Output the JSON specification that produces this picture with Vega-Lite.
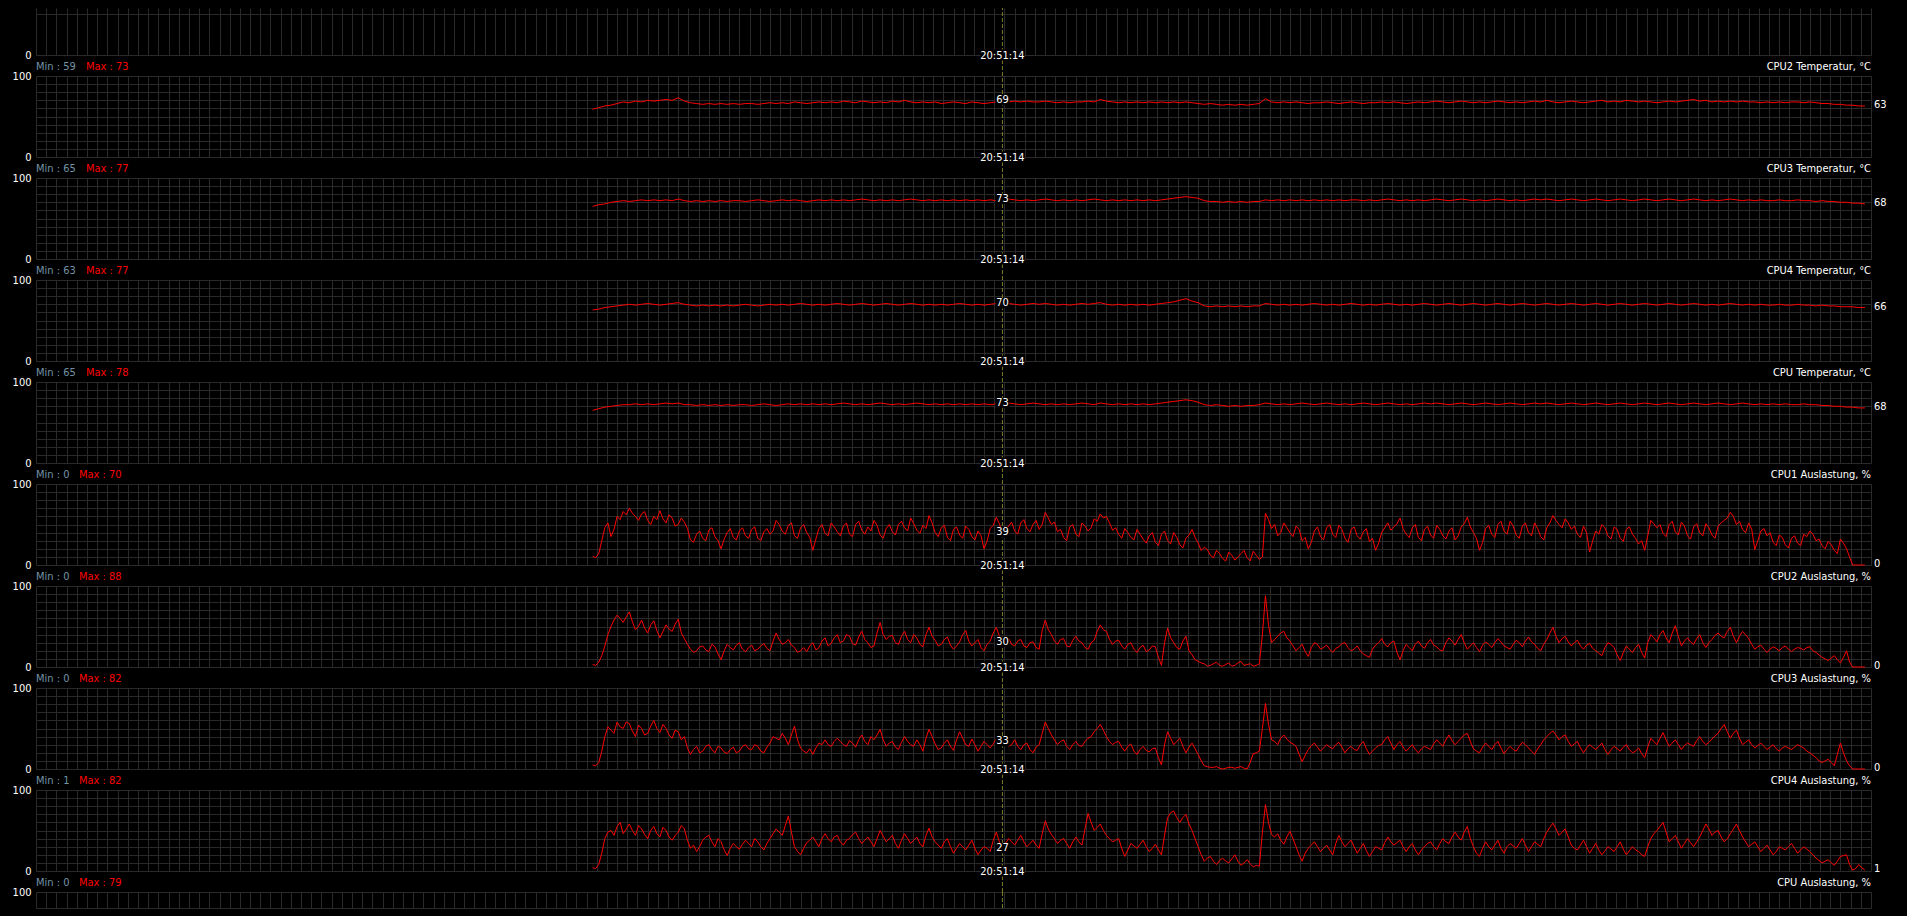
{
  "$schema": "https://vega.github.io/schema/vega-lite/v6.json",
  "description": "Sensor monitor: CPU temperatures and CPU load over time, one strip per sensor.",
  "background": "#000000",
  "padding": {"top": 7, "left": 12, "right": 20, "bottom": 9},
  "datasets": {
    "temp": [
      {"sec":546,"T2":59,"T3":65,"T4":63,"TC":65},{"sec":552,"T2":61,"T3":67,"T4":64,"TC":67},{"sec":558,"T2":63,"T3":68,"T4":66,"TC":69},{"sec":564,"T2":64,"T3":70,"T4":67,"TC":70},
      {"sec":570,"T2":66,"T3":71,"T4":68,"TC":71},{"sec":576,"T2":68,"T3":72,"T4":69,"TC":72},{"sec":582,"T2":67,"T3":71,"T4":70,"TC":72},{"sec":588,"T2":69,"T3":72,"T4":69,"TC":73},
      {"sec":594,"T2":68,"T3":73,"T4":70,"TC":72},{"sec":600,"T2":70,"T3":72,"T4":71,"TC":73},{"sec":606,"T2":69,"T3":73,"T4":70,"TC":72},{"sec":612,"T2":70,"T3":72,"T4":69,"TC":73},
      {"sec":618,"T2":71,"T3":73,"T4":70,"TC":74},{"sec":624,"T2":70,"T3":72,"T4":71,"TC":73},{"sec":630,"T2":73,"T3":74,"T4":72,"TC":74},{"sec":636,"T2":69,"T3":72,"T4":70,"TC":72},
      {"sec":642,"T2":67,"T3":71,"T4":69,"TC":72},{"sec":648,"T2":66,"T3":72,"T4":68,"TC":71},{"sec":654,"T2":65,"T3":71,"T4":69,"TC":72},{"sec":660,"T2":66,"T3":72,"T4":68,"TC":71},
      {"sec":666,"T2":65,"T3":71,"T4":69,"TC":72},{"sec":672,"T2":66,"T3":72,"T4":68,"TC":71},{"sec":678,"T2":65,"T3":71,"T4":69,"TC":72},{"sec":684,"T2":66,"T3":72,"T4":68,"TC":71},
      {"sec":690,"T2":65,"T3":72,"T4":69,"TC":72},{"sec":696,"T2":66,"T3":71,"T4":70,"TC":72},{"sec":702,"T2":66,"T3":72,"T4":69,"TC":71},{"sec":708,"T2":65,"T3":73,"T4":68,"TC":72},
      {"sec":714,"T2":66,"T3":72,"T4":69,"TC":73},{"sec":720,"T2":67,"T3":71,"T4":70,"TC":72},{"sec":726,"T2":66,"T3":72,"T4":69,"TC":71},{"sec":732,"T2":67,"T3":73,"T4":70,"TC":72},
      {"sec":738,"T2":66,"T3":72,"T4":69,"TC":73},{"sec":744,"T2":68,"T3":73,"T4":70,"TC":72},{"sec":750,"T2":67,"T3":72,"T4":71,"TC":73},{"sec":756,"T2":66,"T3":71,"T4":70,"TC":72},
      {"sec":762,"T2":67,"T3":72,"T4":69,"TC":73},{"sec":768,"T2":68,"T3":73,"T4":70,"TC":72},{"sec":774,"T2":67,"T3":72,"T4":69,"TC":73},{"sec":780,"T2":68,"T3":73,"T4":70,"TC":72},
      {"sec":786,"T2":67,"T3":72,"T4":71,"TC":73},{"sec":792,"T2":69,"T3":73,"T4":70,"TC":74},{"sec":798,"T2":68,"T3":72,"T4":69,"TC":73},{"sec":804,"T2":67,"T3":73,"T4":70,"TC":72},
      {"sec":810,"T2":69,"T3":74,"T4":71,"TC":73},{"sec":816,"T2":68,"T3":73,"T4":70,"TC":72},{"sec":822,"T2":67,"T3":72,"T4":69,"TC":73},{"sec":828,"T2":68,"T3":73,"T4":70,"TC":74},
      {"sec":834,"T2":67,"T3":72,"T4":71,"TC":73},{"sec":840,"T2":69,"T3":73,"T4":70,"TC":72},{"sec":846,"T2":68,"T3":72,"T4":69,"TC":73},{"sec":852,"T2":70,"T3":73,"T4":70,"TC":72},
      {"sec":858,"T2":68,"T3":74,"T4":71,"TC":73},{"sec":864,"T2":67,"T3":73,"T4":70,"TC":74},{"sec":870,"T2":68,"T3":72,"T4":69,"TC":73},{"sec":876,"T2":67,"T3":73,"T4":70,"TC":72},
      {"sec":882,"T2":68,"T3":72,"T4":69,"TC":73},{"sec":888,"T2":66,"T3":73,"T4":70,"TC":72},{"sec":894,"T2":67,"T3":72,"T4":69,"TC":73},{"sec":900,"T2":68,"T3":73,"T4":70,"TC":72},
      {"sec":906,"T2":67,"T3":72,"T4":71,"TC":73},{"sec":912,"T2":66,"T3":73,"T4":70,"TC":72},{"sec":918,"T2":68,"T3":72,"T4":69,"TC":73},{"sec":924,"T2":67,"T3":73,"T4":70,"TC":72},
      {"sec":930,"T2":66,"T3":72,"T4":69,"TC":73},{"sec":936,"T2":67,"T3":73,"T4":70,"TC":72},{"sec":942,"T2":68,"T3":72,"T4":71,"TC":73},{"sec":948,"T2":69,"T3":73,"T4":70,"TC":73},
      {"sec":954,"T2":68,"T3":74,"T4":71,"TC":74},{"sec":960,"T2":69,"T3":73,"T4":70,"TC":73},{"sec":966,"T2":68,"T3":72,"T4":69,"TC":72},{"sec":972,"T2":69,"T3":73,"T4":70,"TC":73},
      {"sec":978,"T2":68,"T3":72,"T4":71,"TC":74},{"sec":984,"T2":68,"T3":73,"T4":70,"TC":73},{"sec":990,"T2":69,"T3":74,"T4":71,"TC":72},{"sec":996,"T2":68,"T3":73,"T4":70,"TC":73},
      {"sec":1002,"T2":67,"T3":72,"T4":69,"TC":72},{"sec":1008,"T2":68,"T3":73,"T4":70,"TC":73},{"sec":1014,"T2":67,"T3":72,"T4":69,"TC":72},{"sec":1020,"T2":68,"T3":73,"T4":70,"TC":73},
      {"sec":1026,"T2":68,"T3":72,"T4":71,"TC":74},{"sec":1032,"T2":69,"T3":73,"T4":70,"TC":73},{"sec":1038,"T2":68,"T3":74,"T4":71,"TC":72},{"sec":1044,"T2":71,"T3":73,"T4":72,"TC":74},
      {"sec":1050,"T2":69,"T3":72,"T4":70,"TC":73},{"sec":1056,"T2":68,"T3":73,"T4":69,"TC":72},{"sec":1062,"T2":67,"T3":72,"T4":70,"TC":73},{"sec":1068,"T2":68,"T3":73,"T4":69,"TC":72},
      {"sec":1074,"T2":67,"T3":72,"T4":70,"TC":73},{"sec":1080,"T2":68,"T3":73,"T4":69,"TC":72},{"sec":1086,"T2":67,"T3":72,"T4":70,"TC":73},{"sec":1092,"T2":68,"T3":73,"T4":69,"TC":72},
      {"sec":1098,"T2":67,"T3":72,"T4":70,"TC":73},{"sec":1104,"T2":68,"T3":73,"T4":71,"TC":74},{"sec":1110,"T2":67,"T3":74,"T4":72,"TC":75},{"sec":1116,"T2":68,"T3":75,"T4":73,"TC":76},
      {"sec":1122,"T2":67,"T3":76,"T4":75,"TC":77},{"sec":1128,"T2":68,"T3":77,"T4":77,"TC":78},{"sec":1134,"T2":67,"T3":76,"T4":74,"TC":77},{"sec":1140,"T2":66,"T3":75,"T4":72,"TC":75},
      {"sec":1146,"T2":65,"T3":72,"T4":68,"TC":72},{"sec":1152,"T2":66,"T3":71,"T4":67,"TC":71},{"sec":1158,"T2":65,"T3":71,"T4":68,"TC":72},{"sec":1164,"T2":64,"T3":70,"T4":67,"TC":71},
      {"sec":1170,"T2":65,"T3":71,"T4":68,"TC":70},{"sec":1176,"T2":64,"T3":70,"T4":67,"TC":71},{"sec":1182,"T2":65,"T3":71,"T4":68,"TC":70},{"sec":1188,"T2":64,"T3":70,"T4":67,"TC":71},
      {"sec":1194,"T2":65,"T3":71,"T4":68,"TC":71},{"sec":1200,"T2":66,"T3":71,"T4":68,"TC":72},{"sec":1206,"T2":72,"T3":73,"T4":71,"TC":74},{"sec":1212,"T2":68,"T3":72,"T4":70,"TC":73},
      {"sec":1218,"T2":67,"T3":73,"T4":69,"TC":72},{"sec":1224,"T2":68,"T3":72,"T4":70,"TC":73},{"sec":1230,"T2":67,"T3":73,"T4":69,"TC":72},{"sec":1236,"T2":68,"T3":72,"T4":70,"TC":73},
      {"sec":1242,"T2":67,"T3":73,"T4":69,"TC":74},{"sec":1248,"T2":66,"T3":72,"T4":70,"TC":73},{"sec":1254,"T2":67,"T3":73,"T4":71,"TC":72},{"sec":1260,"T2":67,"T3":72,"T4":70,"TC":73},
      {"sec":1266,"T2":68,"T3":73,"T4":69,"TC":74},{"sec":1272,"T2":67,"T3":72,"T4":70,"TC":73},{"sec":1278,"T2":66,"T3":73,"T4":69,"TC":72},{"sec":1284,"T2":67,"T3":72,"T4":70,"TC":73},
      {"sec":1290,"T2":68,"T3":73,"T4":71,"TC":72},{"sec":1296,"T2":67,"T3":73,"T4":70,"TC":73},{"sec":1302,"T2":66,"T3":72,"T4":69,"TC":74},{"sec":1308,"T2":67,"T3":73,"T4":70,"TC":73},
      {"sec":1314,"T2":67,"T3":72,"T4":69,"TC":72},{"sec":1320,"T2":68,"T3":73,"T4":70,"TC":73},{"sec":1326,"T2":67,"T3":74,"T4":71,"TC":74},{"sec":1332,"T2":68,"T3":73,"T4":70,"TC":73},
      {"sec":1338,"T2":67,"T3":72,"T4":69,"TC":72},{"sec":1344,"T2":66,"T3":73,"T4":70,"TC":73},{"sec":1350,"T2":67,"T3":72,"T4":69,"TC":72},{"sec":1356,"T2":68,"T3":73,"T4":70,"TC":73},
      {"sec":1362,"T2":67,"T3":72,"T4":71,"TC":74},{"sec":1368,"T2":68,"T3":73,"T4":70,"TC":73},{"sec":1374,"T2":69,"T3":74,"T4":69,"TC":74},{"sec":1380,"T2":68,"T3":73,"T4":70,"TC":73},
      {"sec":1386,"T2":67,"T3":72,"T4":71,"TC":72},{"sec":1392,"T2":68,"T3":73,"T4":70,"TC":73},{"sec":1398,"T2":69,"T3":74,"T4":69,"TC":74},{"sec":1404,"T2":68,"T3":73,"T4":70,"TC":73},
      {"sec":1410,"T2":67,"T3":72,"T4":71,"TC":72},{"sec":1416,"T2":68,"T3":73,"T4":70,"TC":73},{"sec":1422,"T2":67,"T3":72,"T4":69,"TC":74},{"sec":1428,"T2":68,"T3":73,"T4":70,"TC":73},
      {"sec":1434,"T2":69,"T3":74,"T4":71,"TC":72},{"sec":1440,"T2":68,"T3":73,"T4":70,"TC":73},{"sec":1446,"T2":67,"T3":72,"T4":69,"TC":74},{"sec":1452,"T2":68,"T3":73,"T4":70,"TC":73},
      {"sec":1458,"T2":67,"T3":72,"T4":71,"TC":72},{"sec":1464,"T2":68,"T3":73,"T4":70,"TC":73},{"sec":1470,"T2":69,"T3":74,"T4":69,"TC":74},{"sec":1476,"T2":68,"T3":73,"T4":70,"TC":73},
      {"sec":1482,"T2":70,"T3":74,"T4":71,"TC":74},{"sec":1488,"T2":68,"T3":73,"T4":70,"TC":73},{"sec":1494,"T2":67,"T3":72,"T4":69,"TC":72},{"sec":1500,"T2":68,"T3":73,"T4":70,"TC":73},
      {"sec":1506,"T2":69,"T3":74,"T4":71,"TC":74},{"sec":1512,"T2":68,"T3":73,"T4":70,"TC":73},{"sec":1518,"T2":67,"T3":72,"T4":69,"TC":72},{"sec":1524,"T2":68,"T3":73,"T4":70,"TC":73},
      {"sec":1530,"T2":69,"T3":74,"T4":71,"TC":74},{"sec":1536,"T2":70,"T3":73,"T4":70,"TC":73},{"sec":1542,"T2":68,"T3":72,"T4":69,"TC":72},{"sec":1548,"T2":69,"T3":73,"T4":70,"TC":73},
      {"sec":1554,"T2":68,"T3":74,"T4":71,"TC":74},{"sec":1560,"T2":70,"T3":73,"T4":70,"TC":73},{"sec":1566,"T2":69,"T3":72,"T4":69,"TC":72},{"sec":1572,"T2":68,"T3":73,"T4":70,"TC":73},
      {"sec":1578,"T2":69,"T3":74,"T4":71,"TC":74},{"sec":1584,"T2":68,"T3":73,"T4":70,"TC":73},{"sec":1590,"T2":67,"T3":72,"T4":69,"TC":72},{"sec":1596,"T2":68,"T3":73,"T4":70,"TC":73},
      {"sec":1602,"T2":69,"T3":74,"T4":71,"TC":74},{"sec":1608,"T2":68,"T3":73,"T4":70,"TC":73},{"sec":1614,"T2":69,"T3":72,"T4":69,"TC":72},{"sec":1620,"T2":70,"T3":73,"T4":70,"TC":73},
      {"sec":1626,"T2":71,"T3":74,"T4":71,"TC":74},{"sec":1632,"T2":69,"T3":73,"T4":70,"TC":73},{"sec":1638,"T2":70,"T3":72,"T4":69,"TC":72},{"sec":1644,"T2":68,"T3":73,"T4":70,"TC":73},
      {"sec":1650,"T2":69,"T3":72,"T4":69,"TC":74},{"sec":1656,"T2":68,"T3":73,"T4":70,"TC":73},{"sec":1662,"T2":69,"T3":74,"T4":71,"TC":72},{"sec":1668,"T2":68,"T3":73,"T4":70,"TC":73},
      {"sec":1674,"T2":69,"T3":72,"T4":69,"TC":74},{"sec":1680,"T2":68,"T3":73,"T4":70,"TC":73},{"sec":1686,"T2":68,"T3":72,"T4":69,"TC":72},{"sec":1692,"T2":67,"T3":73,"T4":70,"TC":73},
      {"sec":1698,"T2":68,"T3":72,"T4":69,"TC":72},{"sec":1704,"T2":67,"T3":72,"T4":69,"TC":73},{"sec":1710,"T2":68,"T3":73,"T4":70,"TC":72},{"sec":1716,"T2":67,"T3":72,"T4":69,"TC":73},
      {"sec":1722,"T2":68,"T3":72,"T4":69,"TC":72},{"sec":1728,"T2":68,"T3":73,"T4":70,"TC":72},{"sec":1734,"T2":67,"T3":72,"T4":69,"TC":73},{"sec":1740,"T2":68,"T3":72,"T4":69,"TC":72},
      {"sec":1746,"T2":67,"T3":71,"T4":68,"TC":72},{"sec":1752,"T2":66,"T3":72,"T4":69,"TC":71},{"sec":1758,"T2":66,"T3":71,"T4":68,"TC":71},{"sec":1764,"T2":65,"T3":71,"T4":68,"TC":70},
      {"sec":1770,"T2":65,"T3":70,"T4":67,"TC":70},{"sec":1776,"T2":64,"T3":70,"T4":67,"TC":69},{"sec":1782,"T2":64,"T3":69,"T4":67,"TC":69},{"sec":1788,"T2":63,"T3":69,"T4":66,"TC":68},
      {"sec":1794,"T2":63,"T3":68,"T4":66,"TC":68}
    ],
    "load": [
      {"sec":546,"L1":11,"L2":3,"L3":5,"L4":4},{"sec":552,"L1":14,"L2":6,"L3":8,"L4":8},{"sec":558,"L1":46,"L2":26,"L3":40,"L4":40},{"sec":564,"L1":35,"L2":50,"L3":48,"L4":50},
      {"sec":570,"L1":60,"L2":64,"L3":58,"L4":55},{"sec":576,"L1":66,"L2":55,"L3":50,"L4":46},{"sec":582,"L1":70,"L2":68,"L3":56,"L4":58},{"sec":588,"L1":60,"L2":46,"L3":40,"L4":44},
      {"sec":594,"L1":63,"L2":58,"L3":50,"L4":52},{"sec":600,"L1":55,"L2":42,"L3":44,"L4":40},{"sec":606,"L1":60,"L2":57,"L3":60,"L4":55},{"sec":612,"L1":67,"L2":36,"L3":45,"L4":42},
      {"sec":618,"L1":52,"L2":52,"L3":50,"L4":50},{"sec":624,"L1":58,"L2":44,"L3":38,"L4":38},{"sec":630,"L1":50,"L2":59,"L3":46,"L4":48},{"sec":636,"L1":53,"L2":35,"L3":40,"L4":52},
      {"sec":642,"L1":31,"L2":22,"L3":18,"L4":28},{"sec":648,"L1":38,"L2":20,"L3":28,"L4":24},{"sec":654,"L1":33,"L2":26,"L3":22,"L4":38},{"sec":660,"L1":43,"L2":19,"L3":30,"L4":44},
      {"sec":666,"L1":35,"L2":25,"L3":20,"L4":30},{"sec":672,"L1":20,"L2":9,"L3":26,"L4":36},{"sec":678,"L1":40,"L2":28,"L3":19,"L4":19},{"sec":684,"L1":34,"L2":21,"L3":27,"L4":34},
      {"sec":690,"L1":42,"L2":30,"L3":22,"L4":27},{"sec":696,"L1":36,"L2":19,"L3":30,"L4":38},{"sec":702,"L1":44,"L2":27,"L3":24,"L4":30},{"sec":708,"L1":33,"L2":22,"L3":28,"L4":36},
      {"sec":714,"L1":41,"L2":29,"L3":20,"L4":26},{"sec":720,"L1":38,"L2":20,"L3":32,"L4":40},{"sec":726,"L1":55,"L2":42,"L3":38,"L4":52},{"sec":732,"L1":42,"L2":28,"L3":44,"L4":44},
      {"sec":738,"L1":49,"L2":34,"L3":30,"L4":68},{"sec":744,"L1":36,"L2":24,"L3":53,"L4":30},{"sec":750,"L1":46,"L2":20,"L3":26,"L4":20},{"sec":756,"L1":40,"L2":19,"L3":20,"L4":35},
      {"sec":762,"L1":18,"L2":30,"L3":18,"L4":42},{"sec":768,"L1":45,"L2":24,"L3":32,"L4":30},{"sec":774,"L1":39,"L2":36,"L3":36,"L4":46},{"sec":780,"L1":52,"L2":29,"L3":28,"L4":36},
      {"sec":786,"L1":41,"L2":40,"L3":38,"L4":44},{"sec":792,"L1":48,"L2":32,"L3":30,"L4":32},{"sec":798,"L1":38,"L2":38,"L3":35,"L4":40},{"sec":804,"L1":50,"L2":27,"L3":27,"L4":48},
      {"sec":810,"L1":43,"L2":44,"L3":42,"L4":34},{"sec":816,"L1":47,"L2":30,"L3":30,"L4":42},{"sec":822,"L1":55,"L2":26,"L3":36,"L4":30},{"sec":828,"L1":37,"L2":55,"L3":49,"L4":50},
      {"sec":834,"L1":45,"L2":34,"L3":28,"L4":36},{"sec":840,"L1":41,"L2":39,"L3":34,"L4":44},{"sec":846,"L1":50,"L2":28,"L3":24,"L4":28},{"sec":852,"L1":46,"L2":44,"L3":40,"L4":46},
      {"sec":858,"L1":58,"L2":30,"L3":30,"L4":34},{"sec":864,"L1":43,"L2":36,"L3":36,"L4":42},{"sec":870,"L1":49,"L2":25,"L3":22,"L4":30},{"sec":876,"L1":61,"L2":49,"L3":49,"L4":53},
      {"sec":882,"L1":40,"L2":33,"L3":31,"L4":36},{"sec":888,"L1":46,"L2":28,"L3":26,"L4":28},{"sec":894,"L1":34,"L2":37,"L3":36,"L4":40},{"sec":900,"L1":44,"L2":22,"L3":23,"L4":22},
      {"sec":906,"L1":37,"L2":31,"L3":46,"L4":34},{"sec":912,"L1":48,"L2":45,"L3":30,"L4":26},{"sec":918,"L1":35,"L2":26,"L3":37,"L4":38},{"sec":924,"L1":42,"L2":34,"L3":22,"L4":20},
      {"sec":930,"L1":20,"L2":20,"L3":34,"L4":30},{"sec":936,"L1":45,"L2":32,"L3":26,"L4":24},{"sec":942,"L1":59,"L2":49,"L3":38,"L4":48},{"sec":948,"L1":39,"L2":30,"L3":33,"L4":27},
      {"sec":954,"L1":48,"L2":36,"L3":28,"L4":40},{"sec":960,"L1":42,"L2":26,"L3":36,"L4":32},{"sec":966,"L1":52,"L2":34,"L3":24,"L4":44},{"sec":972,"L1":45,"L2":24,"L3":32,"L4":30},
      {"sec":978,"L1":50,"L2":31,"L3":20,"L4":38},{"sec":984,"L1":44,"L2":22,"L3":30,"L4":28},{"sec":990,"L1":65,"L2":58,"L3":58,"L4":62},{"sec":996,"L1":50,"L2":40,"L3":42,"L4":45},
      {"sec":1002,"L1":41,"L2":28,"L3":30,"L4":34},{"sec":1008,"L1":34,"L2":35,"L3":36,"L4":40},{"sec":1014,"L1":47,"L2":25,"L3":24,"L4":28},{"sec":1020,"L1":38,"L2":38,"L3":34,"L4":42},
      {"sec":1026,"L1":52,"L2":30,"L3":28,"L4":32},{"sec":1032,"L1":42,"L2":22,"L3":38,"L4":71},{"sec":1038,"L1":57,"L2":33,"L3":46,"L4":50},{"sec":1044,"L1":63,"L2":52,"L3":55,"L4":58},
      {"sec":1050,"L1":60,"L2":44,"L3":40,"L4":44},{"sec":1056,"L1":43,"L2":28,"L3":30,"L4":36},{"sec":1062,"L1":38,"L2":33,"L3":34,"L4":40},{"sec":1068,"L1":45,"L2":22,"L3":22,"L4":18},
      {"sec":1074,"L1":34,"L2":30,"L3":31,"L4":34},{"sec":1080,"L1":44,"L2":18,"L3":18,"L4":28},{"sec":1086,"L1":32,"L2":27,"L3":28,"L4":38},{"sec":1092,"L1":36,"L2":21,"L3":21,"L4":24},
      {"sec":1098,"L1":28,"L2":25,"L3":26,"L4":33},{"sec":1104,"L1":38,"L2":2,"L3":5,"L4":20},{"sec":1110,"L1":30,"L2":48,"L3":46,"L4":66},{"sec":1116,"L1":40,"L2":30,"L3":30,"L4":74},
      {"sec":1122,"L1":25,"L2":22,"L3":38,"L4":60},{"sec":1128,"L1":33,"L2":38,"L3":20,"L4":70},{"sec":1134,"L1":44,"L2":15,"L3":32,"L4":50},{"sec":1140,"L1":27,"L2":7,"L3":18,"L4":30},
      {"sec":1146,"L1":22,"L2":4,"L3":4,"L4":12},{"sec":1152,"L1":12,"L2":2,"L3":2,"L4":18},{"sec":1158,"L1":18,"L2":6,"L3":3,"L4":8},{"sec":1164,"L1":8,"L2":1,"L3":0,"L4":16},
      {"sec":1170,"L1":16,"L2":5,"L3":2,"L4":10},{"sec":1176,"L1":6,"L2":2,"L3":1,"L4":20},{"sec":1182,"L1":14,"L2":7,"L3":3,"L4":7},{"sec":1188,"L1":9,"L2":3,"L3":0,"L4":14},
      {"sec":1194,"L1":17,"L2":1,"L3":19,"L4":5},{"sec":1200,"L1":7,"L2":4,"L3":22,"L4":6},{"sec":1206,"L1":64,"L2":88,"L3":81,"L4":82},{"sec":1212,"L1":45,"L2":30,"L3":36,"L4":45},
      {"sec":1218,"L1":36,"L2":38,"L3":30,"L4":46},{"sec":1224,"L1":52,"L2":44,"L3":42,"L4":33},{"sec":1230,"L1":40,"L2":32,"L3":33,"L4":49},{"sec":1236,"L1":48,"L2":20,"L3":28,"L4":30},
      {"sec":1242,"L1":30,"L2":28,"L3":9,"L4":12},{"sec":1248,"L1":20,"L2":13,"L3":24,"L4":28},{"sec":1254,"L1":42,"L2":30,"L3":32,"L4":36},{"sec":1260,"L1":35,"L2":22,"L3":22,"L4":24},
      {"sec":1266,"L1":46,"L2":27,"L3":30,"L4":32},{"sec":1272,"L1":38,"L2":18,"L3":25,"L4":20},{"sec":1278,"L1":49,"L2":25,"L3":33,"L4":44},{"sec":1284,"L1":33,"L2":30,"L3":20,"L4":30},
      {"sec":1290,"L1":44,"L2":20,"L3":28,"L4":38},{"sec":1296,"L1":36,"L2":26,"L3":23,"L4":22},{"sec":1302,"L1":41,"L2":16,"L3":34,"L4":34},{"sec":1308,"L1":29,"L2":12,"L3":18,"L4":18},
      {"sec":1314,"L1":18,"L2":27,"L3":26,"L4":30},{"sec":1320,"L1":40,"L2":35,"L3":30,"L4":26},{"sec":1326,"L1":52,"L2":25,"L3":40,"L4":42},{"sec":1332,"L1":47,"L2":32,"L3":24,"L4":32},
      {"sec":1338,"L1":58,"L2":9,"L3":34,"L4":38},{"sec":1344,"L1":38,"L2":28,"L3":22,"L4":24},{"sec":1350,"L1":46,"L2":20,"L3":30,"L4":34},{"sec":1356,"L1":34,"L2":32,"L3":20,"L4":20},
      {"sec":1362,"L1":44,"L2":23,"L3":28,"L4":30},{"sec":1368,"L1":37,"L2":34,"L3":24,"L4":36},{"sec":1374,"L1":49,"L2":25,"L3":36,"L4":26},{"sec":1380,"L1":36,"L2":20,"L3":28,"L4":40},
      {"sec":1386,"L1":42,"L2":36,"L3":42,"L4":34},{"sec":1392,"L1":31,"L2":27,"L3":30,"L4":48},{"sec":1398,"L1":47,"L2":40,"L3":38,"L4":38},{"sec":1404,"L1":59,"L2":22,"L3":44,"L4":55},
      {"sec":1410,"L1":40,"L2":30,"L3":25,"L4":30},{"sec":1416,"L1":18,"L2":19,"L3":20,"L4":18},{"sec":1422,"L1":45,"L2":31,"L3":32,"L4":36},{"sec":1428,"L1":38,"L2":24,"L3":24,"L4":26},
      {"sec":1434,"L1":50,"L2":35,"L3":34,"L4":38},{"sec":1440,"L1":42,"L2":26,"L3":19,"L4":22},{"sec":1446,"L1":54,"L2":22,"L3":28,"L4":34},{"sec":1452,"L1":37,"L2":33,"L3":22,"L4":28},
      {"sec":1458,"L1":48,"L2":25,"L3":33,"L4":40},{"sec":1464,"L1":40,"L2":37,"L3":26,"L4":24},{"sec":1470,"L1":52,"L2":28,"L3":18,"L4":36},{"sec":1476,"L1":35,"L2":20,"L3":30,"L4":30},
      {"sec":1482,"L1":46,"L2":34,"L3":40,"L4":48},{"sec":1488,"L1":61,"L2":49,"L3":47,"L4":59},{"sec":1494,"L1":50,"L2":30,"L3":36,"L4":44},{"sec":1500,"L1":57,"L2":38,"L3":42,"L4":52},
      {"sec":1506,"L1":44,"L2":26,"L3":28,"L4":32},{"sec":1512,"L1":38,"L2":33,"L3":34,"L4":26},{"sec":1518,"L1":48,"L2":22,"L3":20,"L4":38},{"sec":1524,"L1":16,"L2":29,"L3":30,"L4":22},
      {"sec":1530,"L1":42,"L2":20,"L3":24,"L4":34},{"sec":1536,"L1":50,"L2":14,"L3":32,"L4":20},{"sec":1542,"L1":36,"L2":30,"L3":18,"L4":30},{"sec":1548,"L1":47,"L2":24,"L3":28,"L4":24},
      {"sec":1554,"L1":33,"L2":8,"L3":22,"L4":36},{"sec":1560,"L1":44,"L2":26,"L3":30,"L4":20},{"sec":1566,"L1":38,"L2":18,"L3":20,"L4":30},{"sec":1572,"L1":26,"L2":28,"L3":26,"L4":24},
      {"sec":1578,"L1":18,"L2":11,"L3":14,"L4":18},{"sec":1584,"L1":55,"L2":40,"L3":38,"L4":40},{"sec":1590,"L1":46,"L2":31,"L3":30,"L4":50},{"sec":1596,"L1":39,"L2":45,"L3":45,"L4":60},
      {"sec":1602,"L1":50,"L2":30,"L3":28,"L4":36},{"sec":1608,"L1":41,"L2":51,"L3":36,"L4":44},{"sec":1614,"L1":53,"L2":26,"L3":24,"L4":28},{"sec":1620,"L1":36,"L2":36,"L3":32,"L4":40},
      {"sec":1626,"L1":47,"L2":28,"L3":28,"L4":30},{"sec":1632,"L1":40,"L2":40,"L3":40,"L4":42},{"sec":1638,"L1":51,"L2":24,"L3":30,"L4":58},{"sec":1644,"L1":37,"L2":34,"L3":37,"L4":44},
      {"sec":1650,"L1":48,"L2":42,"L3":44,"L4":50},{"sec":1656,"L1":55,"L2":36,"L3":55,"L4":36},{"sec":1662,"L1":65,"L2":49,"L3":38,"L4":46},{"sec":1668,"L1":50,"L2":30,"L3":48,"L4":58},
      {"sec":1674,"L1":44,"L2":44,"L3":30,"L4":42},{"sec":1680,"L1":52,"L2":35,"L3":36,"L4":30},{"sec":1686,"L1":19,"L2":22,"L3":26,"L4":36},{"sec":1692,"L1":42,"L2":27,"L3":32,"L4":24},
      {"sec":1698,"L1":36,"L2":18,"L3":24,"L4":32},{"sec":1704,"L1":28,"L2":25,"L3":30,"L4":20},{"sec":1710,"L1":37,"L2":20,"L3":22,"L4":30},{"sec":1716,"L1":25,"L2":26,"L3":28,"L4":26},
      {"sec":1722,"L1":33,"L2":19,"L3":24,"L4":34},{"sec":1728,"L1":27,"L2":24,"L3":30,"L4":22},{"sec":1734,"L1":38,"L2":21,"L3":26,"L4":30},{"sec":1740,"L1":42,"L2":25,"L3":20,"L4":24},
      {"sec":1746,"L1":30,"L2":18,"L3":14,"L4":16},{"sec":1752,"L1":24,"L2":12,"L3":8,"L4":10},{"sec":1758,"L1":29,"L2":8,"L3":12,"L4":14},{"sec":1764,"L1":18,"L2":14,"L3":4,"L4":7},
      {"sec":1770,"L1":32,"L2":5,"L3":32,"L4":18},{"sec":1776,"L1":20,"L2":20,"L3":10,"L4":20},{"sec":1782,"L1":0,"L2":0,"L3":0,"L4":1},{"sec":1788,"L1":0,"L2":0,"L3":0,"L4":8},
      {"sec":1794,"L1":0,"L2":0,"L3":0,"L4":1},
      {"sec":549,"L1":9,"L2":2,"L3":4,"L4":3},{"sec":555,"L1":30,"L2":14,"L3":22,"L4":22},{"sec":561,"L1":52,"L2":40,"L3":52,"L4":48},{"sec":567,"L1":44,"L2":58,"L3":44,"L4":44},
      {"sec":573,"L1":56,"L2":60,"L3":52,"L4":60},{"sec":579,"L1":62,"L2":62,"L3":58,"L4":52},{"sec":585,"L1":64,"L2":56,"L3":47,"L4":50},{"sec":591,"L1":55,"L2":50,"L3":54,"L4":56},
      {"sec":597,"L1":66,"L2":48,"L3":42,"L4":45},{"sec":603,"L1":50,"L2":52,"L3":53,"L4":50},{"sec":609,"L1":56,"L2":45,"L3":50,"L4":46},{"sec":615,"L1":57,"L2":44,"L3":55,"L4":54},
      {"sec":621,"L1":62,"L2":47,"L3":42,"L4":42},{"sec":627,"L1":48,"L2":53,"L3":48,"L4":44},{"sec":633,"L1":58,"L2":42,"L3":36,"L4":56},{"sec":639,"L1":45,"L2":28,"L3":26,"L4":38},
      {"sec":645,"L1":28,"L2":18,"L3":24,"L4":32},{"sec":651,"L1":42,"L2":25,"L3":20,"L4":30},{"sec":657,"L1":30,"L2":21,"L3":28,"L4":42},{"sec":663,"L1":46,"L2":28,"L3":24,"L4":36},
      {"sec":669,"L1":30,"L2":16,"L3":28,"L4":40},{"sec":675,"L1":32,"L2":20,"L3":21,"L4":26},{"sec":681,"L1":45,"L2":24,"L3":24,"L4":28},{"sec":687,"L1":31,"L2":27,"L3":20,"L4":30},
      {"sec":693,"L1":46,"L2":22,"L3":28,"L4":33},{"sec":699,"L1":33,"L2":24,"L3":25,"L4":34},{"sec":705,"L1":47,"L2":20,"L3":30,"L4":40},{"sec":711,"L1":30,"L2":26,"L3":22,"L4":30},
      {"sec":717,"L1":45,"L2":23,"L3":27,"L4":34},{"sec":723,"L1":42,"L2":32,"L3":40,"L4":46},{"sec":729,"L1":50,"L2":34,"L3":36,"L4":48},{"sec":735,"L1":38,"L2":30,"L3":38,"L4":56},
      {"sec":741,"L1":52,"L2":27,"L3":42,"L4":48},{"sec":747,"L1":33,"L2":18,"L3":36,"L4":24},{"sec":753,"L1":50,"L2":24,"L3":22,"L4":28},{"sec":759,"L1":34,"L2":26,"L3":25,"L4":38},
      {"sec":765,"L1":32,"L2":21,"L3":26,"L4":36},{"sec":771,"L1":50,"L2":32,"L3":30,"L4":40},{"sec":777,"L1":36,"L2":26,"L3":30,"L4":40},{"sec":783,"L1":47,"L2":36,"L3":34,"L4":42},
      {"sec":789,"L1":36,"L2":30,"L3":34,"L4":36},{"sec":795,"L1":52,"L2":40,"L3":28,"L4":38},{"sec":801,"L1":35,"L2":29,"L3":32,"L4":45},{"sec":807,"L1":54,"L2":37,"L3":36,"L4":40},
      {"sec":813,"L1":38,"L2":34,"L3":34,"L4":38},{"sec":819,"L1":42,"L2":24,"L3":40,"L4":36},{"sec":825,"L1":49,"L2":42,"L3":42,"L4":40},{"sec":831,"L1":33,"L2":40,"L3":36,"L4":43},
      {"sec":837,"L1":50,"L2":38,"L3":32,"L4":40},{"sec":843,"L1":37,"L2":30,"L3":27,"L4":34},{"sec":849,"L1":54,"L2":38,"L3":33,"L4":38},{"sec":855,"L1":42,"L2":34,"L3":34,"L4":40},
      {"sec":861,"L1":51,"L2":40,"L3":28,"L4":38},{"sec":867,"L1":39,"L2":28,"L3":30,"L4":34},{"sec":873,"L1":45,"L2":40,"L3":38,"L4":44},{"sec":879,"L1":52,"L2":38,"L3":40,"L4":42},
      {"sec":885,"L1":35,"L2":26,"L3":24,"L4":32},{"sec":891,"L1":49,"L2":34,"L3":32,"L4":36},{"sec":897,"L1":30,"L2":27,"L3":28,"L4":30},{"sec":903,"L1":47,"L2":26,"L3":36,"L4":28},
      {"sec":909,"L1":33,"L2":40,"L3":38,"L4":30},{"sec":915,"L1":44,"L2":32,"L3":28,"L4":32},{"sec":921,"L1":31,"L2":30,"L3":30,"L4":28},{"sec":927,"L1":36,"L2":24,"L3":28,"L4":26},
      {"sec":933,"L1":30,"L2":28,"L3":30,"L4":28},{"sec":939,"L1":49,"L2":42,"L3":31,"L4":38},{"sec":945,"L1":51,"L2":38,"L3":30,"L4":36},{"sec":951,"L1":44,"L2":34,"L3":36,"L4":34},
      {"sec":957,"L1":53,"L2":28,"L3":30,"L4":36},{"sec":963,"L1":38,"L2":32,"L3":28,"L4":38},{"sec":969,"L1":56,"L2":26,"L3":30,"L4":36},{"sec":975,"L1":41,"L2":30,"L3":24,"L4":34},
      {"sec":981,"L1":55,"L2":24,"L3":27,"L4":32},{"sec":987,"L1":50,"L2":45,"L3":44,"L4":46},{"sec":993,"L1":58,"L2":46,"L3":50,"L4":52},{"sec":999,"L1":53,"L2":32,"L3":36,"L4":40},
      {"sec":1005,"L1":44,"L2":34,"L3":34,"L4":38},{"sec":1011,"L1":30,"L2":26,"L3":28,"L4":34},{"sec":1017,"L1":50,"L2":33,"L3":30,"L4":36},{"sec":1023,"L1":35,"L2":32,"L3":29,"L4":36},
      {"sec":1029,"L1":48,"L2":24,"L3":34,"L4":52},{"sec":1035,"L1":46,"L2":30,"L3":40,"L4":60},{"sec":1041,"L1":54,"L2":44,"L3":50,"L4":54},{"sec":1047,"L1":58,"L2":46,"L3":48,"L4":50},
      {"sec":1053,"L1":52,"L2":34,"L3":34,"L4":40},{"sec":1059,"L1":46,"L2":32,"L3":33,"L4":38},{"sec":1065,"L1":33,"L2":26,"L3":27,"L4":28},{"sec":1071,"L1":40,"L2":28,"L3":28,"L4":26},
      {"sec":1077,"L1":31,"L2":22,"L3":22,"L4":31},{"sec":1083,"L1":38,"L2":24,"L3":24,"L4":33},{"sec":1089,"L1":27,"L2":19,"L3":23,"L4":30},{"sec":1095,"L1":40,"L2":26,"L3":25,"L4":28},
      {"sec":1101,"L1":24,"L2":12,"L3":14,"L4":26},{"sec":1107,"L1":42,"L2":30,"L3":30,"L4":44},{"sec":1113,"L1":26,"L2":36,"L3":38,"L4":72},{"sec":1119,"L1":34,"L2":24,"L3":34,"L4":66},
      {"sec":1125,"L1":21,"L2":32,"L3":28,"L4":66},{"sec":1131,"L1":37,"L2":20,"L3":27,"L4":58},{"sec":1137,"L1":34,"L2":9,"L3":25,"L4":40},{"sec":1143,"L1":18,"L2":5,"L3":10,"L4":20},
      {"sec":1149,"L1":19,"L2":1,"L3":3,"L4":16},{"sec":1155,"L1":9,"L2":4,"L3":2,"L4":12},{"sec":1161,"L1":14,"L2":2,"L3":1,"L4":13},{"sec":1167,"L1":5,"L2":3,"L3":1,"L4":12},
      {"sec":1173,"L1":12,"L2":1,"L3":2,"L4":15},{"sec":1179,"L1":10,"L2":5,"L3":2,"L4":12},{"sec":1185,"L1":18,"L2":2,"L3":1,"L4":10},{"sec":1191,"L1":5,"L2":4,"L3":8,"L4":9},
      {"sec":1197,"L1":12,"L2":2,"L3":20,"L4":7},{"sec":1203,"L1":10,"L2":40,"L3":50,"L4":48},{"sec":1209,"L1":56,"L2":52,"L3":55,"L4":60},{"sec":1215,"L1":50,"L2":34,"L3":34,"L4":42},
      {"sec":1221,"L1":40,"L2":42,"L3":38,"L4":38},{"sec":1227,"L1":46,"L2":36,"L3":37,"L4":42},{"sec":1233,"L1":35,"L2":26,"L3":31,"L4":40},{"sec":1239,"L1":44,"L2":24,"L3":18,"L4":20},
      {"sec":1245,"L1":34,"L2":19,"L3":17,"L4":22},{"sec":1251,"L1":28,"L2":24,"L3":29,"L4":32},{"sec":1257,"L1":47,"L2":28,"L3":27,"L4":30},{"sec":1263,"L1":31,"L2":24,"L3":26,"L4":28},
      {"sec":1269,"L1":50,"L2":22,"L3":27,"L4":26},{"sec":1275,"L1":34,"L2":23,"L3":30,"L4":34},{"sec":1281,"L1":44,"L2":29,"L3":27,"L4":36},{"sec":1287,"L1":28,"L2":24,"L3":25,"L4":34},
      {"sec":1293,"L1":47,"L2":22,"L3":24,"L4":30},{"sec":1299,"L1":32,"L2":20,"L3":30,"L4":28},{"sec":1305,"L1":45,"L2":14,"L3":25,"L4":25},{"sec":1311,"L1":33,"L2":22,"L3":22,"L4":24},
      {"sec":1317,"L1":27,"L2":30,"L3":29,"L4":28},{"sec":1323,"L1":46,"L2":28,"L3":36,"L4":35},{"sec":1329,"L1":43,"L2":30,"L3":32,"L4":36},{"sec":1335,"L1":51,"L2":18,"L3":30,"L4":35},
      {"sec":1341,"L1":45,"L2":20,"L3":27,"L4":30},{"sec":1347,"L1":34,"L2":24,"L3":26,"L4":30},{"sec":1353,"L1":50,"L2":28,"L3":24,"L4":26},{"sec":1359,"L1":30,"L2":26,"L3":25,"L4":26},
      {"sec":1365,"L1":48,"L2":30,"L3":26,"L4":34},{"sec":1371,"L1":33,"L2":27,"L3":31,"L4":30},{"sec":1377,"L1":44,"L2":21,"L3":32,"L4":34},{"sec":1383,"L1":32,"L2":30,"L3":36,"L4":36},
      {"sec":1389,"L1":46,"L2":32,"L3":35,"L4":42},{"sec":1395,"L1":36,"L2":34,"L3":34,"L4":42},{"sec":1401,"L1":51,"L2":30,"L3":42,"L4":48},{"sec":1407,"L1":47,"L2":26,"L3":34,"L4":40},
      {"sec":1413,"L1":33,"L2":24,"L3":22,"L4":22},{"sec":1419,"L1":28,"L2":27,"L3":27,"L4":28},{"sec":1425,"L1":49,"L2":28,"L3":28,"L4":30},{"sec":1431,"L1":34,"L2":30,"L3":30,"L4":32},
      {"sec":1437,"L1":54,"L2":31,"L3":26,"L4":28},{"sec":1443,"L1":38,"L2":24,"L3":24,"L4":30},{"sec":1449,"L1":48,"L2":28,"L3":24,"L4":31},{"sec":1455,"L1":33,"L2":30,"L3":28,"L4":34},
      {"sec":1461,"L1":52,"L2":32,"L3":30,"L4":32},{"sec":1467,"L1":36,"L2":31,"L3":22,"L4":30},{"sec":1473,"L1":45,"L2":23,"L3":25,"L4":33},{"sec":1479,"L1":31,"L2":28,"L3":36,"L4":40},
      {"sec":1485,"L1":52,"L2":42,"L3":44,"L4":54},{"sec":1491,"L1":55,"L2":38,"L3":42,"L4":52},{"sec":1497,"L1":46,"L2":35,"L3":40,"L4":48},{"sec":1503,"L1":52,"L2":31,"L3":34,"L4":42},
      {"sec":1509,"L1":48,"L2":30,"L3":31,"L4":28},{"sec":1515,"L1":34,"L2":26,"L3":26,"L4":32},{"sec":1521,"L1":40,"L2":27,"L3":26,"L4":30},{"sec":1527,"L1":30,"L2":23,"L3":27,"L4":28},
      {"sec":1533,"L1":38,"L2":17,"L3":28,"L4":26},{"sec":1539,"L1":46,"L2":24,"L3":24,"L4":25},{"sec":1545,"L1":32,"L2":28,"L3":24,"L4":27},{"sec":1551,"L1":44,"L2":15,"L3":25,"L4":30},
      {"sec":1557,"L1":29,"L2":18,"L3":27,"L4":27},{"sec":1563,"L1":47,"L2":22,"L3":24,"L4":25},{"sec":1569,"L1":33,"L2":24,"L3":22,"L4":26},{"sec":1575,"L1":30,"L2":18,"L3":19,"L4":20},
      {"sec":1581,"L1":36,"L2":30,"L3":27,"L4":30},{"sec":1587,"L1":51,"L2":36,"L3":34,"L4":46},{"sec":1593,"L1":50,"L2":40,"L3":38,"L4":55},{"sec":1599,"L1":35,"L2":36,"L3":36,"L4":48},
      {"sec":1605,"L1":54,"L2":42,"L3":32,"L4":40},{"sec":1611,"L1":37,"L2":38,"L3":30,"L4":36},{"sec":1617,"L1":48,"L2":32,"L3":29,"L4":34},{"sec":1623,"L1":32,"L2":31,"L3":30,"L4":35},
      {"sec":1629,"L1":51,"L2":35,"L3":35,"L4":36},{"sec":1635,"L1":36,"L2":30,"L3":34,"L4":50},{"sec":1641,"L1":46,"L2":30,"L3":33,"L4":52},{"sec":1647,"L1":33,"L2":39,"L3":41,"L4":48},
      {"sec":1653,"L1":52,"L2":38,"L3":50,"L4":42},{"sec":1659,"L1":58,"L2":44,"L3":46,"L4":40},{"sec":1665,"L1":60,"L2":38,"L3":44,"L4":52},{"sec":1671,"L1":54,"L2":38,"L3":38,"L4":50},
      {"sec":1677,"L1":40,"L2":40,"L3":33,"L4":36},{"sec":1683,"L1":44,"L2":28,"L3":30,"L4":33},{"sec":1689,"L1":30,"L2":25,"L3":29,"L4":30},{"sec":1695,"L1":45,"L2":22,"L3":28,"L4":28},
      {"sec":1701,"L1":40,"L2":22,"L3":27,"L4":26},{"sec":1707,"L1":24,"L2":23,"L3":25,"L4":24},{"sec":1713,"L1":34,"L2":24,"L3":26,"L4":28},{"sec":1719,"L1":21,"L2":22,"L3":26,"L4":30},
      {"sec":1725,"L1":36,"L2":22,"L3":27,"L4":28},{"sec":1731,"L1":24,"L2":23,"L3":28,"L4":26},{"sec":1737,"L1":35,"L2":24,"L3":22,"L4":27},{"sec":1743,"L1":38,"L2":20,"L3":17,"L4":20},
      {"sec":1749,"L1":32,"L2":15,"L3":10,"L4":13},{"sec":1755,"L1":20,"L2":10,"L3":10,"L4":12},{"sec":1761,"L1":25,"L2":11,"L3":8,"L4":10},{"sec":1767,"L1":14,"L2":9,"L3":18,"L4":12},
      {"sec":1773,"L1":27,"L2":12,"L3":20,"L4":19},{"sec":1779,"L1":10,"L2":6,"L3":4,"L4":8},{"sec":1785,"L1":0,"L2":0,"L3":0,"L4":3},{"sec":1791,"L1":0,"L2":0,"L3":0,"L4":4}
    ]
  },
  "vconcat": [
    {
      "width": 1835,
      "height": 47,
      "data": {"values": [{}]},
      "layer": [
        {"mark": "rule", "encoding": {
          "x": {"datum": 948, "scale": {"domain": [0, 1800], "nice": false}, "axis": {"tickCount": 180}},
          "y": {"datum": -26, "scale": {"domain": [0, 58], "nice": false}, "axis": {"values": [0, 10, 20, 30, 40, 50]}},
          "y2": {"datum": 58}}},
        {"mark": {"type": "point", "shape": "M-1,-0.25L1,-0.25L1,0.25L-1,0.25Z", "size": 1936, "filled": true, "color": "#000000", "opacity": 1},
         "encoding": {"x": {"datum": 948}, "y": {"datum": 0}}},
        {"mark": {"type": "text", "dy": 1}, "encoding": {"x": {"datum": 948}, "y": {"datum": 0}, "text": {"value": "20:51:14"}}}
      ]
    },
    {
      "width": 1835,
      "height": 81,
      "data": {"name": "temp"},
      "encoding": {"x": {"field": "sec", "type": "quantitative", "scale": {"domain": [0, 1800], "nice": false}, "axis": {"tickCount": 180, "title": null}}},
      "layer": [
        {"mark": "line", "encoding": {"y": {"field": "T2", "type": "quantitative", "scale": {"domain": [0, 100], "nice": false}, "axis": {"values": [0, 10, 20, 30, 40, 50, 60, 70, 80, 90, 100], "title": null}}}},
        {"transform": [{"filter": "datum.sec == 948"}], "mark": "rule", "encoding": {"x": {"datum": 948, "scale": {"domain": [0, 1800], "nice": false}, "axis": {"tickCount": 180, "title": null}}, "y": {"datum": -26, "scale": {"domain": [0, 100], "nice": false}, "axis": {"values": [0, 10, 20, 30, 40, 50, 60, 70, 80, 90, 100], "title": null}}, "y2": {"datum": 100}}},
        {"transform": [{"filter": "datum.sec == 948"}], "mark": {"type": "point", "shape": "M-1,-0.25L1,-0.25L1,0.25L-1,0.25Z", "size": 1936, "filled": true, "color": "#000000", "opacity": 1}, "encoding": {"x": {"datum": 948, "scale": {"domain": [0, 1800], "nice": false}, "axis": {"tickCount": 180, "title": null}}, "y": {"datum": 0, "scale": {"domain": [0, 100], "nice": false}, "axis": {"values": [0, 10, 20, 30, 40, 50, 60, 70, 80, 90, 100], "title": null}}}},
        {"transform": [{"filter": "datum.sec == 948"}], "mark": {"type": "text", "dy": 1}, "encoding": {"x": {"datum": 948, "scale": {"domain": [0, 1800], "nice": false}, "axis": {"tickCount": 180, "title": null}}, "y": {"datum": 0, "scale": {"domain": [0, 100], "nice": false}, "axis": {"values": [0, 10, 20, 30, 40, 50, 60, 70, 80, 90, 100], "title": null}}, "text": {"value": "20:51:14"}}},
        {"transform": [{"filter": "datum.sec == 948"}], "mark": {"type": "text", "align": "left", "dy": -9, "color": "#7393a5"}, "encoding": {"x": {"datum": 0, "scale": {"domain": [0, 1800], "nice": false}, "axis": {"tickCount": 180, "title": null}}, "y": {"datum": 100, "scale": {"domain": [0, 100], "nice": false}, "axis": {"values": [0, 10, 20, 30, 40, 50, 60, 70, 80, 90, 100], "title": null}}, "text": {"value": "Min : 59"}}},
        {"transform": [{"filter": "datum.sec == 948"}], "mark": {"type": "text", "align": "left", "dx": 50, "dy": -9, "color": "#ff0000"}, "encoding": {"x": {"datum": 0, "scale": {"domain": [0, 1800], "nice": false}, "axis": {"tickCount": 180, "title": null}}, "y": {"datum": 100, "scale": {"domain": [0, 100], "nice": false}, "axis": {"values": [0, 10, 20, 30, 40, 50, 60, 70, 80, 90, 100], "title": null}}, "text": {"value": "Max : 73"}}},
        {"transform": [{"filter": "datum.sec == 948"}], "mark": {"type": "text", "align": "right", "dy": -9}, "encoding": {"x": {"datum": 1800, "scale": {"domain": [0, 1800], "nice": false}, "axis": {"tickCount": 180, "title": null}}, "y": {"datum": 100, "scale": {"domain": [0, 100], "nice": false}, "axis": {"values": [0, 10, 20, 30, 40, 50, 60, 70, 80, 90, 100], "title": null}}, "text": {"value": "CPU2 Temperatur, °C"}}},
        {"transform": [{"filter": "datum.sec == 948"}], "mark": {"type": "point", "shape": "M-1,-0.75L1,-0.75L1,0.75L-1,0.75Z", "size": 196, "filled": true, "color": "#000000", "opacity": 1, "yOffset": -1}, "encoding": {"y": {"field": "T2", "type": "quantitative", "scale": {"domain": [0, 100], "nice": false}, "axis": {"values": [0, 10, 20, 30, 40, 50, 60, 70, 80, 90, 100], "title": null}}}},
        {"transform": [{"filter": "datum.sec == 948"}], "mark": {"type": "text", "dy": -1}, "encoding": {"y": {"field": "T2", "type": "quantitative", "scale": {"domain": [0, 100], "nice": false}, "axis": {"values": [0, 10, 20, 30, 40, 50, 60, 70, 80, 90, 100], "title": null}}, "text": {"field": "T2", "type": "quantitative"}}},
        {"transform": [{"filter": "datum.sec == 1794"}], "mark": {"type": "text", "align": "left", "dx": 3, "dy": -1}, "encoding": {"x": {"datum": 1800, "scale": {"domain": [0, 1800], "nice": false}, "axis": {"tickCount": 180, "title": null}}, "y": {"field": "T2", "type": "quantitative", "scale": {"domain": [0, 100], "nice": false}, "axis": {"values": [0, 10, 20, 30, 40, 50, 60, 70, 80, 90, 100], "title": null}}, "text": {"field": "T2", "type": "quantitative"}}}
      ]
    },
    {
      "width": 1835,
      "height": 81,
      "data": {"name": "temp"},
      "encoding": {"x": {"field": "sec", "type": "quantitative", "scale": {"domain": [0, 1800], "nice": false}, "axis": {"tickCount": 180, "title": null}}},
      "layer": [
        {"mark": "line", "encoding": {"y": {"field": "T3", "type": "quantitative", "scale": {"domain": [0, 100], "nice": false}, "axis": {"values": [0, 10, 20, 30, 40, 50, 60, 70, 80, 90, 100], "title": null}}}},
        {"transform": [{"filter": "datum.sec == 948"}], "mark": "rule", "encoding": {"x": {"datum": 948, "scale": {"domain": [0, 1800], "nice": false}, "axis": {"tickCount": 180, "title": null}}, "y": {"datum": -26, "scale": {"domain": [0, 100], "nice": false}, "axis": {"values": [0, 10, 20, 30, 40, 50, 60, 70, 80, 90, 100], "title": null}}, "y2": {"datum": 100}}},
        {"transform": [{"filter": "datum.sec == 948"}], "mark": {"type": "point", "shape": "M-1,-0.25L1,-0.25L1,0.25L-1,0.25Z", "size": 1936, "filled": true, "color": "#000000", "opacity": 1}, "encoding": {"x": {"datum": 948, "scale": {"domain": [0, 1800], "nice": false}, "axis": {"tickCount": 180, "title": null}}, "y": {"datum": 0, "scale": {"domain": [0, 100], "nice": false}, "axis": {"values": [0, 10, 20, 30, 40, 50, 60, 70, 80, 90, 100], "title": null}}}},
        {"transform": [{"filter": "datum.sec == 948"}], "mark": {"type": "text", "dy": 1}, "encoding": {"x": {"datum": 948, "scale": {"domain": [0, 1800], "nice": false}, "axis": {"tickCount": 180, "title": null}}, "y": {"datum": 0, "scale": {"domain": [0, 100], "nice": false}, "axis": {"values": [0, 10, 20, 30, 40, 50, 60, 70, 80, 90, 100], "title": null}}, "text": {"value": "20:51:14"}}},
        {"transform": [{"filter": "datum.sec == 948"}], "mark": {"type": "text", "align": "left", "dy": -9, "color": "#7393a5"}, "encoding": {"x": {"datum": 0, "scale": {"domain": [0, 1800], "nice": false}, "axis": {"tickCount": 180, "title": null}}, "y": {"datum": 100, "scale": {"domain": [0, 100], "nice": false}, "axis": {"values": [0, 10, 20, 30, 40, 50, 60, 70, 80, 90, 100], "title": null}}, "text": {"value": "Min : 65"}}},
        {"transform": [{"filter": "datum.sec == 948"}], "mark": {"type": "text", "align": "left", "dx": 50, "dy": -9, "color": "#ff0000"}, "encoding": {"x": {"datum": 0, "scale": {"domain": [0, 1800], "nice": false}, "axis": {"tickCount": 180, "title": null}}, "y": {"datum": 100, "scale": {"domain": [0, 100], "nice": false}, "axis": {"values": [0, 10, 20, 30, 40, 50, 60, 70, 80, 90, 100], "title": null}}, "text": {"value": "Max : 77"}}},
        {"transform": [{"filter": "datum.sec == 948"}], "mark": {"type": "text", "align": "right", "dy": -9}, "encoding": {"x": {"datum": 1800, "scale": {"domain": [0, 1800], "nice": false}, "axis": {"tickCount": 180, "title": null}}, "y": {"datum": 100, "scale": {"domain": [0, 100], "nice": false}, "axis": {"values": [0, 10, 20, 30, 40, 50, 60, 70, 80, 90, 100], "title": null}}, "text": {"value": "CPU3 Temperatur, °C"}}},
        {"transform": [{"filter": "datum.sec == 948"}], "mark": {"type": "point", "shape": "M-1,-0.75L1,-0.75L1,0.75L-1,0.75Z", "size": 196, "filled": true, "color": "#000000", "opacity": 1, "yOffset": -1}, "encoding": {"y": {"field": "T3", "type": "quantitative", "scale": {"domain": [0, 100], "nice": false}, "axis": {"values": [0, 10, 20, 30, 40, 50, 60, 70, 80, 90, 100], "title": null}}}},
        {"transform": [{"filter": "datum.sec == 948"}], "mark": {"type": "text", "dy": -1}, "encoding": {"y": {"field": "T3", "type": "quantitative", "scale": {"domain": [0, 100], "nice": false}, "axis": {"values": [0, 10, 20, 30, 40, 50, 60, 70, 80, 90, 100], "title": null}}, "text": {"field": "T3", "type": "quantitative"}}},
        {"transform": [{"filter": "datum.sec == 1794"}], "mark": {"type": "text", "align": "left", "dx": 3, "dy": -1}, "encoding": {"x": {"datum": 1800, "scale": {"domain": [0, 1800], "nice": false}, "axis": {"tickCount": 180, "title": null}}, "y": {"field": "T3", "type": "quantitative", "scale": {"domain": [0, 100], "nice": false}, "axis": {"values": [0, 10, 20, 30, 40, 50, 60, 70, 80, 90, 100], "title": null}}, "text": {"field": "T3", "type": "quantitative"}}}
      ]
    },
    {
      "width": 1835,
      "height": 81,
      "data": {"name": "temp"},
      "encoding": {"x": {"field": "sec", "type": "quantitative", "scale": {"domain": [0, 1800], "nice": false}, "axis": {"tickCount": 180, "title": null}}},
      "layer": [
        {"mark": "line", "encoding": {"y": {"field": "T4", "type": "quantitative", "scale": {"domain": [0, 100], "nice": false}, "axis": {"values": [0, 10, 20, 30, 40, 50, 60, 70, 80, 90, 100], "title": null}}}},
        {"transform": [{"filter": "datum.sec == 948"}], "mark": "rule", "encoding": {"x": {"datum": 948, "scale": {"domain": [0, 1800], "nice": false}, "axis": {"tickCount": 180, "title": null}}, "y": {"datum": -26, "scale": {"domain": [0, 100], "nice": false}, "axis": {"values": [0, 10, 20, 30, 40, 50, 60, 70, 80, 90, 100], "title": null}}, "y2": {"datum": 100}}},
        {"transform": [{"filter": "datum.sec == 948"}], "mark": {"type": "point", "shape": "M-1,-0.25L1,-0.25L1,0.25L-1,0.25Z", "size": 1936, "filled": true, "color": "#000000", "opacity": 1}, "encoding": {"x": {"datum": 948, "scale": {"domain": [0, 1800], "nice": false}, "axis": {"tickCount": 180, "title": null}}, "y": {"datum": 0, "scale": {"domain": [0, 100], "nice": false}, "axis": {"values": [0, 10, 20, 30, 40, 50, 60, 70, 80, 90, 100], "title": null}}}},
        {"transform": [{"filter": "datum.sec == 948"}], "mark": {"type": "text", "dy": 1}, "encoding": {"x": {"datum": 948, "scale": {"domain": [0, 1800], "nice": false}, "axis": {"tickCount": 180, "title": null}}, "y": {"datum": 0, "scale": {"domain": [0, 100], "nice": false}, "axis": {"values": [0, 10, 20, 30, 40, 50, 60, 70, 80, 90, 100], "title": null}}, "text": {"value": "20:51:14"}}},
        {"transform": [{"filter": "datum.sec == 948"}], "mark": {"type": "text", "align": "left", "dy": -9, "color": "#7393a5"}, "encoding": {"x": {"datum": 0, "scale": {"domain": [0, 1800], "nice": false}, "axis": {"tickCount": 180, "title": null}}, "y": {"datum": 100, "scale": {"domain": [0, 100], "nice": false}, "axis": {"values": [0, 10, 20, 30, 40, 50, 60, 70, 80, 90, 100], "title": null}}, "text": {"value": "Min : 63"}}},
        {"transform": [{"filter": "datum.sec == 948"}], "mark": {"type": "text", "align": "left", "dx": 50, "dy": -9, "color": "#ff0000"}, "encoding": {"x": {"datum": 0, "scale": {"domain": [0, 1800], "nice": false}, "axis": {"tickCount": 180, "title": null}}, "y": {"datum": 100, "scale": {"domain": [0, 100], "nice": false}, "axis": {"values": [0, 10, 20, 30, 40, 50, 60, 70, 80, 90, 100], "title": null}}, "text": {"value": "Max : 77"}}},
        {"transform": [{"filter": "datum.sec == 948"}], "mark": {"type": "text", "align": "right", "dy": -9}, "encoding": {"x": {"datum": 1800, "scale": {"domain": [0, 1800], "nice": false}, "axis": {"tickCount": 180, "title": null}}, "y": {"datum": 100, "scale": {"domain": [0, 100], "nice": false}, "axis": {"values": [0, 10, 20, 30, 40, 50, 60, 70, 80, 90, 100], "title": null}}, "text": {"value": "CPU4 Temperatur, °C"}}},
        {"transform": [{"filter": "datum.sec == 948"}], "mark": {"type": "point", "shape": "M-1,-0.75L1,-0.75L1,0.75L-1,0.75Z", "size": 196, "filled": true, "color": "#000000", "opacity": 1, "yOffset": -1}, "encoding": {"y": {"field": "T4", "type": "quantitative", "scale": {"domain": [0, 100], "nice": false}, "axis": {"values": [0, 10, 20, 30, 40, 50, 60, 70, 80, 90, 100], "title": null}}}},
        {"transform": [{"filter": "datum.sec == 948"}], "mark": {"type": "text", "dy": -1}, "encoding": {"y": {"field": "T4", "type": "quantitative", "scale": {"domain": [0, 100], "nice": false}, "axis": {"values": [0, 10, 20, 30, 40, 50, 60, 70, 80, 90, 100], "title": null}}, "text": {"field": "T4", "type": "quantitative"}}},
        {"transform": [{"filter": "datum.sec == 1794"}], "mark": {"type": "text", "align": "left", "dx": 3, "dy": -1}, "encoding": {"x": {"datum": 1800, "scale": {"domain": [0, 1800], "nice": false}, "axis": {"tickCount": 180, "title": null}}, "y": {"field": "T4", "type": "quantitative", "scale": {"domain": [0, 100], "nice": false}, "axis": {"values": [0, 10, 20, 30, 40, 50, 60, 70, 80, 90, 100], "title": null}}, "text": {"field": "T4", "type": "quantitative"}}}
      ]
    },
    {
      "width": 1835,
      "height": 81,
      "data": {"name": "temp"},
      "encoding": {"x": {"field": "sec", "type": "quantitative", "scale": {"domain": [0, 1800], "nice": false}, "axis": {"tickCount": 180, "title": null}}},
      "layer": [
        {"mark": "line", "encoding": {"y": {"field": "TC", "type": "quantitative", "scale": {"domain": [0, 100], "nice": false}, "axis": {"values": [0, 10, 20, 30, 40, 50, 60, 70, 80, 90, 100], "title": null}}}},
        {"transform": [{"filter": "datum.sec == 948"}], "mark": "rule", "encoding": {"x": {"datum": 948, "scale": {"domain": [0, 1800], "nice": false}, "axis": {"tickCount": 180, "title": null}}, "y": {"datum": -26, "scale": {"domain": [0, 100], "nice": false}, "axis": {"values": [0, 10, 20, 30, 40, 50, 60, 70, 80, 90, 100], "title": null}}, "y2": {"datum": 100}}},
        {"transform": [{"filter": "datum.sec == 948"}], "mark": {"type": "point", "shape": "M-1,-0.25L1,-0.25L1,0.25L-1,0.25Z", "size": 1936, "filled": true, "color": "#000000", "opacity": 1}, "encoding": {"x": {"datum": 948, "scale": {"domain": [0, 1800], "nice": false}, "axis": {"tickCount": 180, "title": null}}, "y": {"datum": 0, "scale": {"domain": [0, 100], "nice": false}, "axis": {"values": [0, 10, 20, 30, 40, 50, 60, 70, 80, 90, 100], "title": null}}}},
        {"transform": [{"filter": "datum.sec == 948"}], "mark": {"type": "text", "dy": 1}, "encoding": {"x": {"datum": 948, "scale": {"domain": [0, 1800], "nice": false}, "axis": {"tickCount": 180, "title": null}}, "y": {"datum": 0, "scale": {"domain": [0, 100], "nice": false}, "axis": {"values": [0, 10, 20, 30, 40, 50, 60, 70, 80, 90, 100], "title": null}}, "text": {"value": "20:51:14"}}},
        {"transform": [{"filter": "datum.sec == 948"}], "mark": {"type": "text", "align": "left", "dy": -9, "color": "#7393a5"}, "encoding": {"x": {"datum": 0, "scale": {"domain": [0, 1800], "nice": false}, "axis": {"tickCount": 180, "title": null}}, "y": {"datum": 100, "scale": {"domain": [0, 100], "nice": false}, "axis": {"values": [0, 10, 20, 30, 40, 50, 60, 70, 80, 90, 100], "title": null}}, "text": {"value": "Min : 65"}}},
        {"transform": [{"filter": "datum.sec == 948"}], "mark": {"type": "text", "align": "left", "dx": 50, "dy": -9, "color": "#ff0000"}, "encoding": {"x": {"datum": 0, "scale": {"domain": [0, 1800], "nice": false}, "axis": {"tickCount": 180, "title": null}}, "y": {"datum": 100, "scale": {"domain": [0, 100], "nice": false}, "axis": {"values": [0, 10, 20, 30, 40, 50, 60, 70, 80, 90, 100], "title": null}}, "text": {"value": "Max : 78"}}},
        {"transform": [{"filter": "datum.sec == 948"}], "mark": {"type": "text", "align": "right", "dy": -9}, "encoding": {"x": {"datum": 1800, "scale": {"domain": [0, 1800], "nice": false}, "axis": {"tickCount": 180, "title": null}}, "y": {"datum": 100, "scale": {"domain": [0, 100], "nice": false}, "axis": {"values": [0, 10, 20, 30, 40, 50, 60, 70, 80, 90, 100], "title": null}}, "text": {"value": "CPU Temperatur, °C"}}},
        {"transform": [{"filter": "datum.sec == 948"}], "mark": {"type": "point", "shape": "M-1,-0.75L1,-0.75L1,0.75L-1,0.75Z", "size": 196, "filled": true, "color": "#000000", "opacity": 1, "yOffset": -1}, "encoding": {"y": {"field": "TC", "type": "quantitative", "scale": {"domain": [0, 100], "nice": false}, "axis": {"values": [0, 10, 20, 30, 40, 50, 60, 70, 80, 90, 100], "title": null}}}},
        {"transform": [{"filter": "datum.sec == 948"}], "mark": {"type": "text", "dy": -1}, "encoding": {"y": {"field": "TC", "type": "quantitative", "scale": {"domain": [0, 100], "nice": false}, "axis": {"values": [0, 10, 20, 30, 40, 50, 60, 70, 80, 90, 100], "title": null}}, "text": {"field": "TC", "type": "quantitative"}}},
        {"transform": [{"filter": "datum.sec == 1794"}], "mark": {"type": "text", "align": "left", "dx": 3, "dy": -1}, "encoding": {"x": {"datum": 1800, "scale": {"domain": [0, 1800], "nice": false}, "axis": {"tickCount": 180, "title": null}}, "y": {"field": "TC", "type": "quantitative", "scale": {"domain": [0, 100], "nice": false}, "axis": {"values": [0, 10, 20, 30, 40, 50, 60, 70, 80, 90, 100], "title": null}}, "text": {"field": "TC", "type": "quantitative"}}}
      ]
    },
    {
      "width": 1835,
      "height": 81,
      "data": {"name": "load"},
      "encoding": {"x": {"field": "sec", "type": "quantitative", "scale": {"domain": [0, 1800], "nice": false}, "axis": {"tickCount": 180, "title": null}}},
      "layer": [
        {"mark": "line", "encoding": {"y": {"field": "L1", "type": "quantitative", "scale": {"domain": [0, 100], "nice": false}, "axis": {"values": [0, 10, 20, 30, 40, 50, 60, 70, 80, 90, 100], "title": null}}}},
        {"transform": [{"filter": "datum.sec == 948"}], "mark": "rule", "encoding": {"x": {"datum": 948, "scale": {"domain": [0, 1800], "nice": false}, "axis": {"tickCount": 180, "title": null}}, "y": {"datum": -26, "scale": {"domain": [0, 100], "nice": false}, "axis": {"values": [0, 10, 20, 30, 40, 50, 60, 70, 80, 90, 100], "title": null}}, "y2": {"datum": 100}}},
        {"transform": [{"filter": "datum.sec == 948"}], "mark": {"type": "point", "shape": "M-1,-0.25L1,-0.25L1,0.25L-1,0.25Z", "size": 1936, "filled": true, "color": "#000000", "opacity": 1}, "encoding": {"x": {"datum": 948, "scale": {"domain": [0, 1800], "nice": false}, "axis": {"tickCount": 180, "title": null}}, "y": {"datum": 0, "scale": {"domain": [0, 100], "nice": false}, "axis": {"values": [0, 10, 20, 30, 40, 50, 60, 70, 80, 90, 100], "title": null}}}},
        {"transform": [{"filter": "datum.sec == 948"}], "mark": {"type": "text", "dy": 1}, "encoding": {"x": {"datum": 948, "scale": {"domain": [0, 1800], "nice": false}, "axis": {"tickCount": 180, "title": null}}, "y": {"datum": 0, "scale": {"domain": [0, 100], "nice": false}, "axis": {"values": [0, 10, 20, 30, 40, 50, 60, 70, 80, 90, 100], "title": null}}, "text": {"value": "20:51:14"}}},
        {"transform": [{"filter": "datum.sec == 948"}], "mark": {"type": "text", "align": "left", "dy": -9, "color": "#7393a5"}, "encoding": {"x": {"datum": 0, "scale": {"domain": [0, 1800], "nice": false}, "axis": {"tickCount": 180, "title": null}}, "y": {"datum": 100, "scale": {"domain": [0, 100], "nice": false}, "axis": {"values": [0, 10, 20, 30, 40, 50, 60, 70, 80, 90, 100], "title": null}}, "text": {"value": "Min : 0"}}},
        {"transform": [{"filter": "datum.sec == 948"}], "mark": {"type": "text", "align": "left", "dx": 43, "dy": -9, "color": "#ff0000"}, "encoding": {"x": {"datum": 0, "scale": {"domain": [0, 1800], "nice": false}, "axis": {"tickCount": 180, "title": null}}, "y": {"datum": 100, "scale": {"domain": [0, 100], "nice": false}, "axis": {"values": [0, 10, 20, 30, 40, 50, 60, 70, 80, 90, 100], "title": null}}, "text": {"value": "Max : 70"}}},
        {"transform": [{"filter": "datum.sec == 948"}], "mark": {"type": "text", "align": "right", "dy": -9}, "encoding": {"x": {"datum": 1800, "scale": {"domain": [0, 1800], "nice": false}, "axis": {"tickCount": 180, "title": null}}, "y": {"datum": 100, "scale": {"domain": [0, 100], "nice": false}, "axis": {"values": [0, 10, 20, 30, 40, 50, 60, 70, 80, 90, 100], "title": null}}, "text": {"value": "CPU1 Auslastung, %"}}},
        {"transform": [{"filter": "datum.sec == 948"}], "mark": {"type": "point", "shape": "M-1,-0.75L1,-0.75L1,0.75L-1,0.75Z", "size": 196, "filled": true, "color": "#000000", "opacity": 1, "yOffset": -1}, "encoding": {"y": {"field": "L1", "type": "quantitative", "scale": {"domain": [0, 100], "nice": false}, "axis": {"values": [0, 10, 20, 30, 40, 50, 60, 70, 80, 90, 100], "title": null}}}},
        {"transform": [{"filter": "datum.sec == 948"}], "mark": {"type": "text", "dy": -1}, "encoding": {"y": {"field": "L1", "type": "quantitative", "scale": {"domain": [0, 100], "nice": false}, "axis": {"values": [0, 10, 20, 30, 40, 50, 60, 70, 80, 90, 100], "title": null}}, "text": {"field": "L1", "type": "quantitative"}}},
        {"transform": [{"filter": "datum.sec == 1794"}], "mark": {"type": "text", "align": "left", "dx": 3, "dy": -1}, "encoding": {"x": {"datum": 1800, "scale": {"domain": [0, 1800], "nice": false}, "axis": {"tickCount": 180, "title": null}}, "y": {"field": "L1", "type": "quantitative", "scale": {"domain": [0, 100], "nice": false}, "axis": {"values": [0, 10, 20, 30, 40, 50, 60, 70, 80, 90, 100], "title": null}}, "text": {"field": "L1", "type": "quantitative"}}}
      ]
    },
    {
      "width": 1835,
      "height": 81,
      "data": {"name": "load"},
      "encoding": {"x": {"field": "sec", "type": "quantitative", "scale": {"domain": [0, 1800], "nice": false}, "axis": {"tickCount": 180, "title": null}}},
      "layer": [
        {"mark": "line", "encoding": {"y": {"field": "L2", "type": "quantitative", "scale": {"domain": [0, 100], "nice": false}, "axis": {"values": [0, 10, 20, 30, 40, 50, 60, 70, 80, 90, 100], "title": null}}}},
        {"transform": [{"filter": "datum.sec == 948"}], "mark": "rule", "encoding": {"x": {"datum": 948, "scale": {"domain": [0, 1800], "nice": false}, "axis": {"tickCount": 180, "title": null}}, "y": {"datum": -26, "scale": {"domain": [0, 100], "nice": false}, "axis": {"values": [0, 10, 20, 30, 40, 50, 60, 70, 80, 90, 100], "title": null}}, "y2": {"datum": 100}}},
        {"transform": [{"filter": "datum.sec == 948"}], "mark": {"type": "point", "shape": "M-1,-0.25L1,-0.25L1,0.25L-1,0.25Z", "size": 1936, "filled": true, "color": "#000000", "opacity": 1}, "encoding": {"x": {"datum": 948, "scale": {"domain": [0, 1800], "nice": false}, "axis": {"tickCount": 180, "title": null}}, "y": {"datum": 0, "scale": {"domain": [0, 100], "nice": false}, "axis": {"values": [0, 10, 20, 30, 40, 50, 60, 70, 80, 90, 100], "title": null}}}},
        {"transform": [{"filter": "datum.sec == 948"}], "mark": {"type": "text", "dy": 1}, "encoding": {"x": {"datum": 948, "scale": {"domain": [0, 1800], "nice": false}, "axis": {"tickCount": 180, "title": null}}, "y": {"datum": 0, "scale": {"domain": [0, 100], "nice": false}, "axis": {"values": [0, 10, 20, 30, 40, 50, 60, 70, 80, 90, 100], "title": null}}, "text": {"value": "20:51:14"}}},
        {"transform": [{"filter": "datum.sec == 948"}], "mark": {"type": "text", "align": "left", "dy": -9, "color": "#7393a5"}, "encoding": {"x": {"datum": 0, "scale": {"domain": [0, 1800], "nice": false}, "axis": {"tickCount": 180, "title": null}}, "y": {"datum": 100, "scale": {"domain": [0, 100], "nice": false}, "axis": {"values": [0, 10, 20, 30, 40, 50, 60, 70, 80, 90, 100], "title": null}}, "text": {"value": "Min : 0"}}},
        {"transform": [{"filter": "datum.sec == 948"}], "mark": {"type": "text", "align": "left", "dx": 43, "dy": -9, "color": "#ff0000"}, "encoding": {"x": {"datum": 0, "scale": {"domain": [0, 1800], "nice": false}, "axis": {"tickCount": 180, "title": null}}, "y": {"datum": 100, "scale": {"domain": [0, 100], "nice": false}, "axis": {"values": [0, 10, 20, 30, 40, 50, 60, 70, 80, 90, 100], "title": null}}, "text": {"value": "Max : 88"}}},
        {"transform": [{"filter": "datum.sec == 948"}], "mark": {"type": "text", "align": "right", "dy": -9}, "encoding": {"x": {"datum": 1800, "scale": {"domain": [0, 1800], "nice": false}, "axis": {"tickCount": 180, "title": null}}, "y": {"datum": 100, "scale": {"domain": [0, 100], "nice": false}, "axis": {"values": [0, 10, 20, 30, 40, 50, 60, 70, 80, 90, 100], "title": null}}, "text": {"value": "CPU2 Auslastung, %"}}},
        {"transform": [{"filter": "datum.sec == 948"}], "mark": {"type": "point", "shape": "M-1,-0.75L1,-0.75L1,0.75L-1,0.75Z", "size": 196, "filled": true, "color": "#000000", "opacity": 1, "yOffset": -1}, "encoding": {"y": {"field": "L2", "type": "quantitative", "scale": {"domain": [0, 100], "nice": false}, "axis": {"values": [0, 10, 20, 30, 40, 50, 60, 70, 80, 90, 100], "title": null}}}},
        {"transform": [{"filter": "datum.sec == 948"}], "mark": {"type": "text", "dy": -1}, "encoding": {"y": {"field": "L2", "type": "quantitative", "scale": {"domain": [0, 100], "nice": false}, "axis": {"values": [0, 10, 20, 30, 40, 50, 60, 70, 80, 90, 100], "title": null}}, "text": {"field": "L2", "type": "quantitative"}}},
        {"transform": [{"filter": "datum.sec == 1794"}], "mark": {"type": "text", "align": "left", "dx": 3, "dy": -1}, "encoding": {"x": {"datum": 1800, "scale": {"domain": [0, 1800], "nice": false}, "axis": {"tickCount": 180, "title": null}}, "y": {"field": "L2", "type": "quantitative", "scale": {"domain": [0, 100], "nice": false}, "axis": {"values": [0, 10, 20, 30, 40, 50, 60, 70, 80, 90, 100], "title": null}}, "text": {"field": "L2", "type": "quantitative"}}}
      ]
    },
    {
      "width": 1835,
      "height": 81,
      "data": {"name": "load"},
      "encoding": {"x": {"field": "sec", "type": "quantitative", "scale": {"domain": [0, 1800], "nice": false}, "axis": {"tickCount": 180, "title": null}}},
      "layer": [
        {"mark": "line", "encoding": {"y": {"field": "L3", "type": "quantitative", "scale": {"domain": [0, 100], "nice": false}, "axis": {"values": [0, 10, 20, 30, 40, 50, 60, 70, 80, 90, 100], "title": null}}}},
        {"transform": [{"filter": "datum.sec == 948"}], "mark": "rule", "encoding": {"x": {"datum": 948, "scale": {"domain": [0, 1800], "nice": false}, "axis": {"tickCount": 180, "title": null}}, "y": {"datum": -26, "scale": {"domain": [0, 100], "nice": false}, "axis": {"values": [0, 10, 20, 30, 40, 50, 60, 70, 80, 90, 100], "title": null}}, "y2": {"datum": 100}}},
        {"transform": [{"filter": "datum.sec == 948"}], "mark": {"type": "point", "shape": "M-1,-0.25L1,-0.25L1,0.25L-1,0.25Z", "size": 1936, "filled": true, "color": "#000000", "opacity": 1}, "encoding": {"x": {"datum": 948, "scale": {"domain": [0, 1800], "nice": false}, "axis": {"tickCount": 180, "title": null}}, "y": {"datum": 0, "scale": {"domain": [0, 100], "nice": false}, "axis": {"values": [0, 10, 20, 30, 40, 50, 60, 70, 80, 90, 100], "title": null}}}},
        {"transform": [{"filter": "datum.sec == 948"}], "mark": {"type": "text", "dy": 1}, "encoding": {"x": {"datum": 948, "scale": {"domain": [0, 1800], "nice": false}, "axis": {"tickCount": 180, "title": null}}, "y": {"datum": 0, "scale": {"domain": [0, 100], "nice": false}, "axis": {"values": [0, 10, 20, 30, 40, 50, 60, 70, 80, 90, 100], "title": null}}, "text": {"value": "20:51:14"}}},
        {"transform": [{"filter": "datum.sec == 948"}], "mark": {"type": "text", "align": "left", "dy": -9, "color": "#7393a5"}, "encoding": {"x": {"datum": 0, "scale": {"domain": [0, 1800], "nice": false}, "axis": {"tickCount": 180, "title": null}}, "y": {"datum": 100, "scale": {"domain": [0, 100], "nice": false}, "axis": {"values": [0, 10, 20, 30, 40, 50, 60, 70, 80, 90, 100], "title": null}}, "text": {"value": "Min : 0"}}},
        {"transform": [{"filter": "datum.sec == 948"}], "mark": {"type": "text", "align": "left", "dx": 43, "dy": -9, "color": "#ff0000"}, "encoding": {"x": {"datum": 0, "scale": {"domain": [0, 1800], "nice": false}, "axis": {"tickCount": 180, "title": null}}, "y": {"datum": 100, "scale": {"domain": [0, 100], "nice": false}, "axis": {"values": [0, 10, 20, 30, 40, 50, 60, 70, 80, 90, 100], "title": null}}, "text": {"value": "Max : 82"}}},
        {"transform": [{"filter": "datum.sec == 948"}], "mark": {"type": "text", "align": "right", "dy": -9}, "encoding": {"x": {"datum": 1800, "scale": {"domain": [0, 1800], "nice": false}, "axis": {"tickCount": 180, "title": null}}, "y": {"datum": 100, "scale": {"domain": [0, 100], "nice": false}, "axis": {"values": [0, 10, 20, 30, 40, 50, 60, 70, 80, 90, 100], "title": null}}, "text": {"value": "CPU3 Auslastung, %"}}},
        {"transform": [{"filter": "datum.sec == 948"}], "mark": {"type": "point", "shape": "M-1,-0.75L1,-0.75L1,0.75L-1,0.75Z", "size": 196, "filled": true, "color": "#000000", "opacity": 1, "yOffset": -1}, "encoding": {"y": {"field": "L3", "type": "quantitative", "scale": {"domain": [0, 100], "nice": false}, "axis": {"values": [0, 10, 20, 30, 40, 50, 60, 70, 80, 90, 100], "title": null}}}},
        {"transform": [{"filter": "datum.sec == 948"}], "mark": {"type": "text", "dy": -1}, "encoding": {"y": {"field": "L3", "type": "quantitative", "scale": {"domain": [0, 100], "nice": false}, "axis": {"values": [0, 10, 20, 30, 40, 50, 60, 70, 80, 90, 100], "title": null}}, "text": {"field": "L3", "type": "quantitative"}}},
        {"transform": [{"filter": "datum.sec == 1794"}], "mark": {"type": "text", "align": "left", "dx": 3, "dy": -1}, "encoding": {"x": {"datum": 1800, "scale": {"domain": [0, 1800], "nice": false}, "axis": {"tickCount": 180, "title": null}}, "y": {"field": "L3", "type": "quantitative", "scale": {"domain": [0, 100], "nice": false}, "axis": {"values": [0, 10, 20, 30, 40, 50, 60, 70, 80, 90, 100], "title": null}}, "text": {"field": "L3", "type": "quantitative"}}}
      ]
    },
    {
      "width": 1835,
      "height": 81,
      "data": {"name": "load"},
      "encoding": {"x": {"field": "sec", "type": "quantitative", "scale": {"domain": [0, 1800], "nice": false}, "axis": {"tickCount": 180, "title": null}}},
      "layer": [
        {"mark": "line", "encoding": {"y": {"field": "L4", "type": "quantitative", "scale": {"domain": [0, 100], "nice": false}, "axis": {"values": [0, 10, 20, 30, 40, 50, 60, 70, 80, 90, 100], "title": null}}}},
        {"transform": [{"filter": "datum.sec == 948"}], "mark": "rule", "encoding": {"x": {"datum": 948, "scale": {"domain": [0, 1800], "nice": false}, "axis": {"tickCount": 180, "title": null}}, "y": {"datum": -26, "scale": {"domain": [0, 100], "nice": false}, "axis": {"values": [0, 10, 20, 30, 40, 50, 60, 70, 80, 90, 100], "title": null}}, "y2": {"datum": 100}}},
        {"transform": [{"filter": "datum.sec == 948"}], "mark": {"type": "point", "shape": "M-1,-0.25L1,-0.25L1,0.25L-1,0.25Z", "size": 1936, "filled": true, "color": "#000000", "opacity": 1}, "encoding": {"x": {"datum": 948, "scale": {"domain": [0, 1800], "nice": false}, "axis": {"tickCount": 180, "title": null}}, "y": {"datum": 0, "scale": {"domain": [0, 100], "nice": false}, "axis": {"values": [0, 10, 20, 30, 40, 50, 60, 70, 80, 90, 100], "title": null}}}},
        {"transform": [{"filter": "datum.sec == 948"}], "mark": {"type": "text", "dy": 1}, "encoding": {"x": {"datum": 948, "scale": {"domain": [0, 1800], "nice": false}, "axis": {"tickCount": 180, "title": null}}, "y": {"datum": 0, "scale": {"domain": [0, 100], "nice": false}, "axis": {"values": [0, 10, 20, 30, 40, 50, 60, 70, 80, 90, 100], "title": null}}, "text": {"value": "20:51:14"}}},
        {"transform": [{"filter": "datum.sec == 948"}], "mark": {"type": "text", "align": "left", "dy": -9, "color": "#7393a5"}, "encoding": {"x": {"datum": 0, "scale": {"domain": [0, 1800], "nice": false}, "axis": {"tickCount": 180, "title": null}}, "y": {"datum": 100, "scale": {"domain": [0, 100], "nice": false}, "axis": {"values": [0, 10, 20, 30, 40, 50, 60, 70, 80, 90, 100], "title": null}}, "text": {"value": "Min : 1"}}},
        {"transform": [{"filter": "datum.sec == 948"}], "mark": {"type": "text", "align": "left", "dx": 43, "dy": -9, "color": "#ff0000"}, "encoding": {"x": {"datum": 0, "scale": {"domain": [0, 1800], "nice": false}, "axis": {"tickCount": 180, "title": null}}, "y": {"datum": 100, "scale": {"domain": [0, 100], "nice": false}, "axis": {"values": [0, 10, 20, 30, 40, 50, 60, 70, 80, 90, 100], "title": null}}, "text": {"value": "Max : 82"}}},
        {"transform": [{"filter": "datum.sec == 948"}], "mark": {"type": "text", "align": "right", "dy": -9}, "encoding": {"x": {"datum": 1800, "scale": {"domain": [0, 1800], "nice": false}, "axis": {"tickCount": 180, "title": null}}, "y": {"datum": 100, "scale": {"domain": [0, 100], "nice": false}, "axis": {"values": [0, 10, 20, 30, 40, 50, 60, 70, 80, 90, 100], "title": null}}, "text": {"value": "CPU4 Auslastung, %"}}},
        {"transform": [{"filter": "datum.sec == 948"}], "mark": {"type": "point", "shape": "M-1,-0.75L1,-0.75L1,0.75L-1,0.75Z", "size": 196, "filled": true, "color": "#000000", "opacity": 1, "yOffset": -1}, "encoding": {"y": {"field": "L4", "type": "quantitative", "scale": {"domain": [0, 100], "nice": false}, "axis": {"values": [0, 10, 20, 30, 40, 50, 60, 70, 80, 90, 100], "title": null}}}},
        {"transform": [{"filter": "datum.sec == 948"}], "mark": {"type": "text", "dy": -1}, "encoding": {"y": {"field": "L4", "type": "quantitative", "scale": {"domain": [0, 100], "nice": false}, "axis": {"values": [0, 10, 20, 30, 40, 50, 60, 70, 80, 90, 100], "title": null}}, "text": {"field": "L4", "type": "quantitative"}}},
        {"transform": [{"filter": "datum.sec == 1794"}], "mark": {"type": "text", "align": "left", "dx": 3, "dy": -1}, "encoding": {"x": {"datum": 1800, "scale": {"domain": [0, 1800], "nice": false}, "axis": {"tickCount": 180, "title": null}}, "y": {"field": "L4", "type": "quantitative", "scale": {"domain": [0, 100], "nice": false}, "axis": {"values": [0, 10, 20, 30, 40, 50, 60, 70, 80, 90, 100], "title": null}}, "text": {"field": "L4", "type": "quantitative"}}}
      ]
    },
    {
      "width": 1835,
      "height": 16,
      "data": {"values": [{}]},
      "layer": [
        {"mark": "rule", "encoding": {
          "x": {"datum": 948, "scale": {"domain": [0, 1800], "nice": false}, "axis": {"tickCount": 180}},
          "y": {"datum": 80, "scale": {"domain": [80, 100], "nice": false}, "axis": {"values": [80, 90, 100]}},
          "y2": {"datum": 100}}},
        {"mark": {"type": "text", "align": "left", "dy": -9, "color": "#7393a5"}, "encoding": {"x": {"datum": 0}, "y": {"datum": 100}, "text": {"value": "Min : 0"}}},
        {"mark": {"type": "text", "align": "left", "dx": 43, "dy": -9, "color": "#ff0000"}, "encoding": {"x": {"datum": 0}, "y": {"datum": 100}, "text": {"value": "Max : 79"}}},
        {"mark": {"type": "text", "align": "right", "dy": -9}, "encoding": {"x": {"datum": 1800}, "y": {"datum": 100}, "text": {"value": "CPU Auslastung, %"}}}
      ]
    }
  ],
  "spacing": 21,
  "bounds": "flush",
  "config": {
    "view": {"stroke": null},
    "font": "DejaVu Sans Condensed, Liberation Sans Narrow, Liberation Sans, sans-serif",
    "axis": {
      "domain": false,
      "ticks": false,
      "grid": true,
      "gridColor": "#2a2a2a",
      "gridOpacity": 1,
      "gridWidth": 1,
      "labelColor": "#ffffff",
      "labelFont": "DejaVu Sans Condensed, Liberation Sans Narrow, Liberation Sans, sans-serif",
      "labelFontSize": 11,
      "labelPadding": 5,
      "labelFlush": false,
      "labelOverlap": false,
      "labelBound": false,
      "minExtent": 0,
      "title": null
    },
    "axisX": {"labels": false},
    "axisY": {"labelExpr": "datum.value == 0 || datum.value == 100 ? datum.label : ''"},
    "text": {"color": "#ffffff", "font": "DejaVu Sans Condensed, Liberation Sans Narrow, Liberation Sans, sans-serif", "fontSize": 11},
    "line": {"color": "#ff0000", "strokeWidth": 1},
    "rule": {"color": "#7d7d2a", "strokeDash": [4, 2]}
  }
}
